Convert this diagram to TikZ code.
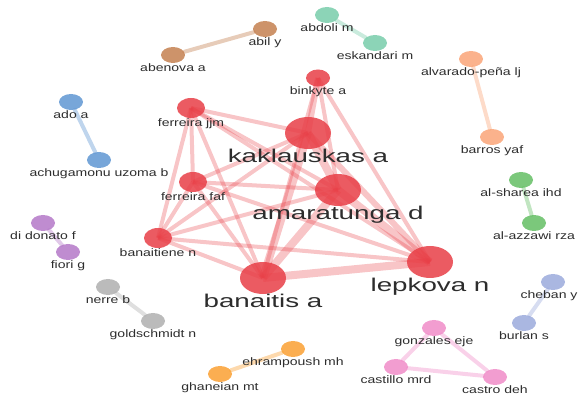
\documentclass[tikz,border=0pt]{standalone}
\usepackage{fontspec}
\setmainfont{Liberation Sans}[FakeStretch=1.3]
\newfontfamily\bigfont{Liberation Sans}[FakeStretch=1.5]
\usetikzlibrary{shapes.geometric,backgrounds}

\definecolor{labelgray}{RGB}{45,45,45}
\definecolor{nodered}{RGB}{232,62,70}
\definecolor{nodebrown}{RGB}{196,128,80}
\definecolor{nodeteal}{RGB}{120,205,170}
\definecolor{nodepeach}{RGB}{250,165,120}
\definecolor{nodegreen}{RGB}{100,190,100}
\definecolor{nodeblue}{RGB}{95,150,210}
\definecolor{nodepurple}{RGB}{180,120,200}
\definecolor{nodegray}{RGB}{175,175,175}
\definecolor{nodeorange}{RGB}{250,160,50}
\definecolor{nodepink}{RGB}{240,140,200}
\definecolor{nodelavender}{RGB}{155,170,220}

\begin{document}
\begin{tikzpicture}[
  x=1pt, y=-1pt,
  font=\fontsize{10.8}{12}\selectfont,
  every label/.style={text=labelgray, fill opacity=1, text opacity=1, inner sep=0pt, text height=8pt, text depth=2.5pt},
  label distance=0pt,
  biglabel/.style={font=\bigfont\fontsize{18.5}{20}\selectfont, text height=13pt, text depth=4pt},
  author/.style={ellipse, inner sep=0pt, minimum width=24pt, minimum height=16pt, fill=#1, fill opacity=0.85},
  core/.style={author=nodered, minimum width=28pt, minimum height=20pt},
  hub/.style={author=nodered, minimum width=46pt, minimum height=32pt},
  link/.style={line width=4pt, draw=#1, opacity=0.4, line cap=round},
  redlink/.style={line width=4pt, draw=nodered, opacity=0.3},
  midlink/.style={redlink, line width=6pt},
  heavylink/.style={redlink, line width=8pt}
]
\useasboundingbox (0,0) rectangle (579,395);

\node[core, minimum width=24pt, minimum height=17pt, label=below:binkyte a] (binkyte) at (318,78) {};
\node[core, label=below:ferreira jjm] (ferreirajjm) at (191,108) {};
\node[hub, label={[biglabel]below:kaklauskas a}] (kaklauskas) at (308,133) {};
\node[core, label=below:ferreira faf] (ferreirafaf) at (193,182) {};
\node[hub, label={[biglabel]below:amaratunga d}] (amaratunga) at (338,190) {};
\node[core, label=below:banaitiene n] (banaitiene) at (158,238) {};
\node[hub, label={[biglabel]below:banaitis a}] (banaitis) at (263,278) {};
\node[hub, label={[biglabel]below:lepkova n}] (lepkova) at (430,262) {};

\node[author=nodebrown, label=below:abil y] (abil) at (265,29) {};
\node[author=nodebrown, label=below:abenova a] (abenova) at (173,55) {};
\node[author=nodeteal, label=below:abdoli m] (abdoli) at (327,15) {};
\node[author=nodeteal, label=below:eskandari m] (eskandari) at (375,43) {};
\node[author=nodepeach, label=below:alvarado-peña lj] (alvarado) at (471,59) {};
\node[author=nodepeach, label=below:barros yaf] (barros) at (492,137) {};
\node[author=nodegreen, label=below:al-sharea ihd] (alsharea) at (521,180) {};
\node[author=nodegreen, label=below:al-azzawi rza] (alazzawi) at (534,223) {};
\node[author=nodeblue, label=below:ado a] (ado) at (71,102) {};
\node[author=nodeblue, label=below:achugamonu uzoma b] (achugamonu) at (99,160) {};
\node[author=nodepurple, label=below:di donato f] (didonato) at (43,223) {};
\node[author=nodepurple, label=below:fiori g] (fiori) at (68,252) {};
\node[author=nodegray, label=below:nerre b] (nerre) at (108,287) {};
\node[author=nodegray, label=below:goldschmidt n] (goldschmidt) at (153,321) {};
\node[author=nodeorange, label=below:ehrampoush mh] (ehrampoush) at (293,349) {};
\node[author=nodeorange, label=below:ghaneian mt] (ghaneian) at (220,374) {};
\node[author=nodepink, label=below:gonzales eje] (gonzales) at (434,328) {};
\node[author=nodepink, label=below:castillo mrd] (castillo) at (396,367) {};
\node[author=nodepink, label=below:castro deh] (castro) at (495,377) {};
\node[author=nodelavender, label={[xshift=-4pt]below:cheban y}] (cheban) at (553,282) {};
\node[author=nodelavender, label=below:burlan s] (burlan) at (524,323) {};

\begin{scope}[on background layer]
\draw[heavylink] (kaklauskas.center) -- (amaratunga.center);
\draw[heavylink] (kaklauskas.center) -- (banaitis.center);
\draw[heavylink] (amaratunga.center) -- (banaitis.center);
\draw[heavylink] (amaratunga.center) -- (lepkova.center);
\draw[heavylink] (banaitis.center) -- (lepkova.center);
\draw[midlink] (kaklauskas.center) -- (lepkova.center);
\draw[midlink] (binkyte.center) -- (kaklauskas.center);
\draw[redlink] (binkyte.center) -- (amaratunga.center);
\draw[redlink] (binkyte.center) -- (lepkova.center);
\draw[redlink] (binkyte.center) -- (banaitis.center);
\draw[redlink] (ferreirajjm.center) -- (kaklauskas.center);
\draw[redlink] (ferreirajjm.center) -- (amaratunga.center);
\draw[redlink] (ferreirajjm.center) -- (lepkova.center);
\draw[redlink] (ferreirajjm.center) -- (banaitis.center);
\draw[redlink] (ferreirajjm.center) -- (ferreirafaf.center);
\draw[redlink] (ferreirajjm.center) -- (banaitiene.center);
\draw[redlink] (ferreirafaf.center) -- (kaklauskas.center);
\draw[redlink] (ferreirafaf.center) -- (amaratunga.center);
\draw[redlink] (ferreirafaf.center) -- (lepkova.center);
\draw[redlink] (ferreirafaf.center) -- (banaitis.center);
\draw[redlink] (ferreirafaf.center) -- (banaitiene.center);
\draw[redlink] (banaitiene.center) -- (kaklauskas.center);
\draw[redlink] (banaitiene.center) -- (amaratunga.center);
\draw[redlink] (banaitiene.center) -- (lepkova.center);
\draw[redlink] (banaitiene.center) -- (banaitis.center);

\draw[link=nodebrown] (abil) -- (abenova);
\draw[link=nodeteal] (abdoli) -- (eskandari);
\draw[link=nodepeach] (alvarado) -- (barros);
\draw[link=nodegreen] (alsharea) -- (alazzawi);
\draw[link=nodeblue] (ado) -- (achugamonu);
\draw[link=nodepurple] (didonato) -- (fiori);
\draw[link=nodegray] (nerre) -- (goldschmidt);
\draw[link=nodeorange] (ehrampoush) -- (ghaneian);
\draw[link=nodepink] (gonzales) -- (castillo);
\draw[link=nodepink] (gonzales) -- (castro);
\draw[link=nodepink] (castillo) -- (castro);
\draw[link=nodelavender] (cheban) -- (burlan);
\end{scope}

\end{tikzpicture}
\end{document}
